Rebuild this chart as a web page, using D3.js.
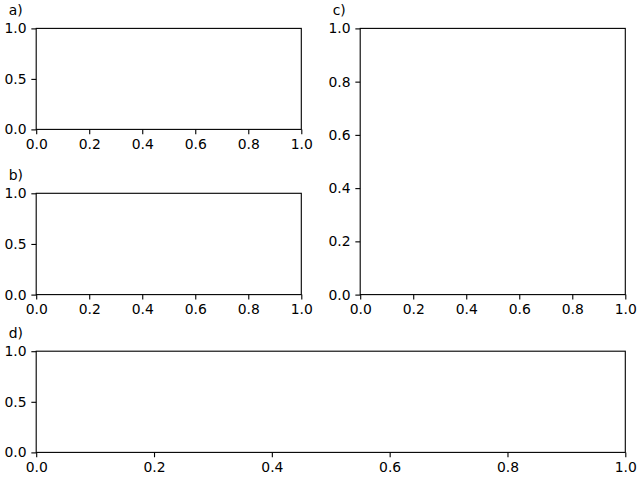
<!DOCTYPE html>
<html>
<head>
<meta charset="utf-8">
<script src="https://cdn.jsdelivr.net/npm/d3@7"></script>
<style>
  body { margin: 0; background: #fff; }
  svg text { font-family: "DejaVu Sans", sans-serif; }
</style>
</head>
<body>
<div id="here"></div>
<script>
// panel labels and tick values
const panelLabels = ["a)", "b)", "c)", "d)"];
const xTicks = [0, 0.2, 0.4, 0.6, 0.8, 1.0];
const yTicksShort = [0, 0.5, 1.0];
const yTicksTall = [0, 0.2, 0.4, 0.6, 0.8, 1.0];
const domainX = [0, 1];
const domainY = [0, 1];

const width = 640;
const height = 480;

// layout (pixel boxes of each axes)
const boxes = [
    { x0: 36.2, x1: 301.3, y0: 28.4, y1: 129.4, yticks: yTicksShort },
    { x0: 36.2, x1: 301.3, y0: 193.3, y1: 294.6, yticks: yTicksShort },
    { x0: 360.2, x1: 625.3, y0: 28.4, y1: 294.6, yticks: yTicksTall },
    { x0: 36.2, x1: 625.3, y0: 351.2, y1: 452.4, yticks: yTicksShort }
];

const fmt = d3.format(".1f");
const tickLen = 4.86;
const fontSize = "13.9px";

const svg = d3.select("#here")
    .append("svg")
    .attr("width", width)
    .attr("height", height);

boxes.forEach(function(b, i){
    const xScale = d3.scaleLinear().domain(domainX).range([b.x0, b.x1]);
    const yScale = d3.scaleLinear().domain(domainY).range([b.y1, b.y0]);

    const g = svg.append("g");

    // x axis
    const xAxis = g.append("g")
        .attr("transform", `translate(0, ${b.y1})`)
        .call(d3.axisBottom(xScale).tickValues(xTicks).tickFormat(fmt)
            .tickSize(tickLen).tickPadding(4.86));

    // y axis
    const yAxis = g.append("g")
        .attr("transform", `translate(${b.x0}, 0)`)
        .call(d3.axisLeft(yScale).tickValues(b.yticks).tickFormat(fmt)
            .tickSize(tickLen).tickPadding(4.86));

    [xAxis, yAxis].forEach(function(ax){
        ax.select(".domain").remove();
        ax.selectAll("line").attr("stroke", "#000").attr("stroke-width", 1.11);
        ax.selectAll("text")
            .attr("fill", "#000")
            .style("font-size", fontSize)
            .style("font-family", "'DejaVu Sans', sans-serif");
    });

    // frame (four spines)
    g.append("rect")
        .attr("x", xScale(domainX[0]))
        .attr("y", yScale(domainY[1]))
        .attr("width", xScale(domainX[1]) - xScale(domainX[0]))
        .attr("height", yScale(domainY[0]) - yScale(domainY[1]))
        .attr("fill", "none")
        .attr("stroke", "#000")
        .attr("stroke-width", 1.11);

    // panel label
    g.append("text")
        .attr("x", b.x0 - 27.5)
        .attr("y", b.y0 - 13)
        .attr("fill", "#000")
        .style("font-size", fontSize)
        .text(panelLabels[i]);
});
</script>
</body>
</html>
